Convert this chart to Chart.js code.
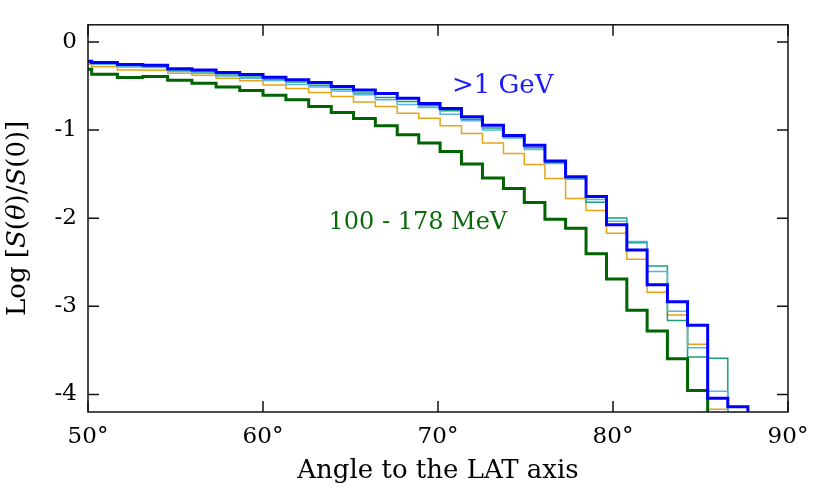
<!DOCTYPE html>
<html><head><meta charset="utf-8">
<script src="https://cdn.jsdelivr.net/npm/chart.js@4/dist/chart.umd.min.js"></script>
<style>html,body{margin:0;padding:0;background:#fff}#wrap{width:830px;height:489px}</style>
</head><body><div id="wrap"><canvas id="c" width="830" height="489"></canvas></div>
<script>
// bin edges (degrees) of the step histograms
const binEdges = [48.70,50.21,51.68,53.13,54.55,55.94,57.32,58.67,60.00,61.31,62.61,63.90,65.17,66.42,67.67,68.90,70.12,71.34,72.54,73.74,74.93,76.11,77.29,78.46,79.63,80.79,81.95,83.11,84.26,85.41,86.56,87.71,88.85,90.00];

const blueVals = [-0.22,-0.232,-0.256,-0.263,-0.304,-0.317,-0.347,-0.37,-0.40,-0.43,-0.46,-0.506,-0.544,-0.585,-0.638,-0.697,-0.756,-0.848,-0.944,-1.062,-1.172,-1.35,-1.53,-1.755,-2.075,-2.362,-2.755,-2.95,-3.215,-4.045,-4.14];
const tealVals = [-0.235,-0.245,-0.272,-0.28,-0.321,-0.34,-0.374,-0.397,-0.423,-0.453,-0.49,-0.536,-0.58,-0.631,-0.676,-0.725,-0.782,-0.876,-0.975,-1.078,-1.2,-1.37,-1.55,-1.819,-1.998,-2.28,-2.542,-3.16,-3.575,-3.59];
const cyanVals = [-0.24,-0.257,-0.283,-0.291,-0.336,-0.355,-0.385,-0.411,-0.438,-0.484,-0.51,-0.555,-0.60,-0.657,-0.71,-0.745,-0.82,-0.895,-1.0,-1.09,-1.22,-1.38,-1.558,-1.789,-2.036,-2.265,-2.606,-3.056,-3.47,-3.965];
const orangeVals = [-0.253,-0.28,-0.317,-0.321,-0.355,-0.378,-0.411,-0.44,-0.487,-0.529,-0.574,-0.62,-0.68,-0.733,-0.808,-0.865,-0.952,-1.039,-1.148,-1.265,-1.392,-1.551,-1.778,-1.912,-2.17,-2.467,-2.842,-3.10,-3.431,-4.17];
const greenVals = [-0.31,-0.366,-0.404,-0.393,-0.434,-0.468,-0.51,-0.551,-0.604,-0.657,-0.733,-0.80,-0.869,-0.952,-1.054,-1.147,-1.243,-1.386,-1.545,-1.662,-1.823,-2.013,-2.115,-2.405,-2.69,-3.045,-3.28,-3.595,-3.956];

const xTicks = [50,60,70,80,90];
const yTicks = [0,-1,-2,-3,-4];
const xLabel = 'Angle to the LAT axis';
const highLabel = '>1 GeV';
const lowLabel = '100 - 178 MeV';
const highLabelPos = {x: 70.8, y: -0.58};
const lowLabelPos = {x: 63.74, y: -2.12};

const FONT = '"DejaVu Serif", "Liberation Serif", serif';
const DROP = -6; // histogram falls off the bottom after last bin

function steps(vals) {
  const pts = vals.map((v, i) => ({x: binEdges[i], y: v}));
  pts.push({x: binEdges[vals.length], y: DROP});
  return pts;
}

function ds(vals, color, width) {
  return {data: steps(vals), borderColor: color, borderWidth: width, stepped: true,
    pointRadius: 0, fill: false, tension: 0};
}

const framePlugin = {
  id: 'frame',
  afterDatasetsDraw(chart) {
    const {ctx, chartArea: a, scales: {x, y}} = chart;
    ctx.save();
    ctx.strokeStyle = '#111';
    ctx.lineWidth = 1.5;
    ctx.strokeRect(a.left, a.top, a.right - a.left, a.bottom - a.top);
    const tl = 11;
    ctx.beginPath();
    xTicks.forEach(v => {
      const px = x.getPixelForValue(v);
      ctx.moveTo(px, a.bottom); ctx.lineTo(px, a.bottom - tl);
      ctx.moveTo(px, a.top); ctx.lineTo(px, a.top + tl);
    });
    yTicks.forEach(v => {
      const py = y.getPixelForValue(v);
      ctx.moveTo(a.left, py); ctx.lineTo(a.left + tl, py);
      ctx.moveTo(a.right, py); ctx.lineTo(a.right - tl, py);
    });
    ctx.stroke();

    // annotations
    ctx.textBaseline = 'alphabetic';
    ctx.textAlign = 'left';
    ctx.font = '26px ' + FONT;
    ctx.fillStyle = '#1a1aff';
    ctx.fillText(highLabel, x.getPixelForValue(highLabelPos.x), y.getPixelForValue(highLabelPos.y));
    ctx.font = '24px ' + FONT;
    ctx.fillStyle = '#0b6b0b';
    ctx.fillText(lowLabel, x.getPixelForValue(lowLabelPos.x), y.getPixelForValue(lowLabelPos.y));

    // x title
    ctx.fillStyle = '#000';
    ctx.textAlign = 'center';
    ctx.font = '26px ' + FONT;
    ctx.fillText(xLabel, (a.left + a.right) / 2, 478);

    // y title with italic pieces
    const parts = [['Log [', false], ['S', true], ['(', false], ['θ', true], [')/', false], ['S', true], ['(0)]', false]];
    const fs = 26;
    let total = 0;
    parts.forEach(p => { ctx.font = (p[1] ? 'italic ' : '') + fs + 'px ' + FONT; total += ctx.measureText(p[0]).width; });
    ctx.translate(25, (a.top + a.bottom) / 2);
    ctx.rotate(-Math.PI / 2);
    ctx.textAlign = 'left';
    let cx = -total / 2;
    parts.forEach(p => {
      ctx.font = (p[1] ? 'italic ' : '') + fs + 'px ' + FONT;
      ctx.fillText(p[0], cx, 0);
      cx += ctx.measureText(p[0]).width;
    });
    ctx.restore();
  }
};

new Chart(document.getElementById('c'), {
  type: 'line',
  data: {
    datasets: [
      ds(blueVals, '#0000ff', 3),
      ds(greenVals, '#006400', 3),
      ds(cyanVals, '#56b4e9', 1.5),
      ds(tealVals, '#1a9e77', 1.5),
      ds(orangeVals, '#e8a317', 1.5)
    ]
  },
  options: {
    responsive: false,
    devicePixelRatio: 1,
    animation: false,
    layout: {padding: {top: 24, right: 42, left: 0, bottom: 0}},
    plugins: {legend: {display: false}, tooltip: {enabled: false}},
    scales: {
      x: {
        type: 'linear', min: 50, max: 90,
        afterBuildTicks: s => { s.ticks = xTicks.map(v => ({value: v})); },
        afterFit: s => { s.height = 77; },
        grid: {display: false, drawTicks: false},
        border: {display: false},
        ticks: {callback: v => v + '°', color: '#000', font: {family: FONT, size: 23}, padding: 11, maxRotation: 0, autoSkip: false}
      },
      y: {
        type: 'linear', min: -4.2, max: 0.195,
        afterBuildTicks: s => { s.ticks = yTicks.map(v => ({value: v})); },
        afterFit: s => { s.width = 88; },
        grid: {display: false, drawTicks: false},
        border: {display: false},
        ticks: {callback: v => String(v), color: '#000', font: {family: FONT, size: 23}, padding: 11, autoSkip: false}
      }
    }
  },
  plugins: [framePlugin]
});
</script>
</body></html>
